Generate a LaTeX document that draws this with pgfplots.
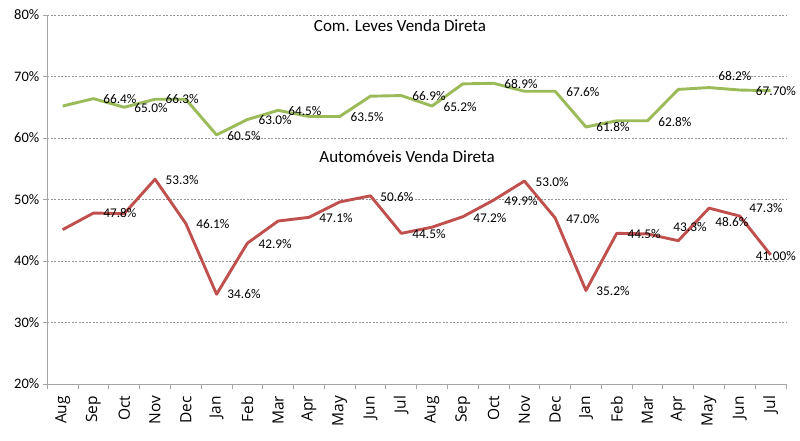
\documentclass[border=0pt]{standalone}
\usepackage{pgfplots}
\pgfplotsset{compat=1.18}
\usepackage{fontspec}
\setmainfont{Carlito}
\newfontfamily\xfont{Open Sans}
\definecolor{gline}{RGB}{155,187,89}
\definecolor{rline}{RGB}{192,80,77}
\definecolor{axgray}{RGB}{165,165,165}
\definecolor{gridgray}{RGB}{150,150,150}
\begin{document}
\begin{tikzpicture}
\path (0,0) rectangle (800pt,440pt);
\begin{axis}[
  at={(47.3pt,56pt)}, anchor=south west,
  width=738.7pt, height=369pt, scale only axis,
  xmin=-0.5, xmax=23.5, ymin=20, ymax=80,
  clip=false,
  axis lines=left,
  axis line style={-, draw=axgray, line width=0.8pt},
  tick align=outside,
  major tick length=4.5pt,
  tick style={draw=axgray, line width=0.8pt},
  x tick label as interval,
  xtick={-0.5,0.5,...,23.5},
  xticklabels={Aug,Sep,Oct,Nov,Dec,Jan,Feb,Mar,Apr,May,Jun,Jul,Aug,Sep,Oct,Nov,Dec,Jan,Feb,Mar,Apr,May,Jun,Jul},
  xticklabel style={rotate=90, anchor=east, font=\xfont\fontsize{15.5}{18}\selectfont},
  xticklabel shift=4pt,
  ytick={20,30,...,80},
  yticklabels={20\%,30\%,40\%,50\%,60\%,70\%,80\%},
  yticklabel style={font=\fontsize{14.5}{17}\selectfont},
  ymajorgrids,
  major grid style={draw=gridgray, line width=0.6pt, dash pattern=on 2pt off 1.5pt},
]
\addplot[gline, line width=2.9pt, line join=round] coordinates {
(0,65.2) (1,66.4) (2,65.0) (3,66.3) (4,66.3) (5,60.5) (6,63.0) (7,64.5)
(8,63.5) (9,63.5) (10,66.8) (11,66.9) (12,65.2) (13,68.8) (14,68.9) (15,67.6)
(16,67.6) (17,61.8) (18,62.8) (19,62.8) (20,67.9) (21,68.2) (22,67.8) (23,67.7)
};
\addplot[rline, line width=2.9pt, line join=round] coordinates {
(0,45.1) (1,47.8) (2,47.7) (3,53.3) (4,46.1) (5,34.6) (6,42.9) (7,46.5)
(8,47.1) (9,49.6) (10,50.6) (11,44.5) (12,45.5) (13,47.2) (14,49.9) (15,53.0)
(16,47.0) (17,35.2) (18,44.5) (19,44.4) (20,43.3) (21,48.6) (22,47.3) (23,41.0)
};
% data labels
\addplot[draw=none, mark=none, nodes near coords={\pgfplotspointmeta\%},
  point meta=explicit symbolic,
  nodes near coords style={anchor=center, inner sep=0pt, font=\fontsize{13.3}{15}\selectfont, text=black}]
  table[meta=lab] {
x y lab
1.86 66.34 66.4
2.87 64.88 65.0
3.88 66.34 66.3
5.89 60.33 60.5
6.90 62.93 63.0
7.87 64.39 64.5
9.89 63.41 63.5
11.90 66.83 66.9
12.91 65.04 65.2
14.89 68.78 68.9
16.90 67.48 67.6
17.88 61.79 61.8
19.89 62.60 62.8
21.84 70.08 68.2
23.17 67.64 67.70
1.86 47.80 47.8
3.88 53.17 53.3
4.88 46.02 46.1
5.89 34.63 34.6
6.90 42.76 42.9
8.88 47.00 47.1
10.86 50.41 50.6
11.90 44.39 44.5
13.88 47.00 47.2
14.89 49.76 49.9
15.90 52.85 53.0
16.90 46.83 47.0
17.88 35.12 35.2
18.89 44.39 44.5
20.38 45.53 43.3
21.74 46.34 48.6
22.85 48.62 47.3
23.17 40.81 41.00
};
% series titles
\addplot[draw=none, mark=none, nodes near coords={\pgfplotspointmeta},
  point meta=explicit symbolic,
  nodes near coords style={anchor=center, inner sep=0pt, font=\fontsize{17}{20}\selectfont, text=black}]
  table[meta=lab, col sep=comma] {
x,y,lab
10.96,78.2,Com. Leves Venda Direta
11.19,56.9,Automóveis Venda Direta
};
\end{axis}
\end{tikzpicture}
\end{document}
